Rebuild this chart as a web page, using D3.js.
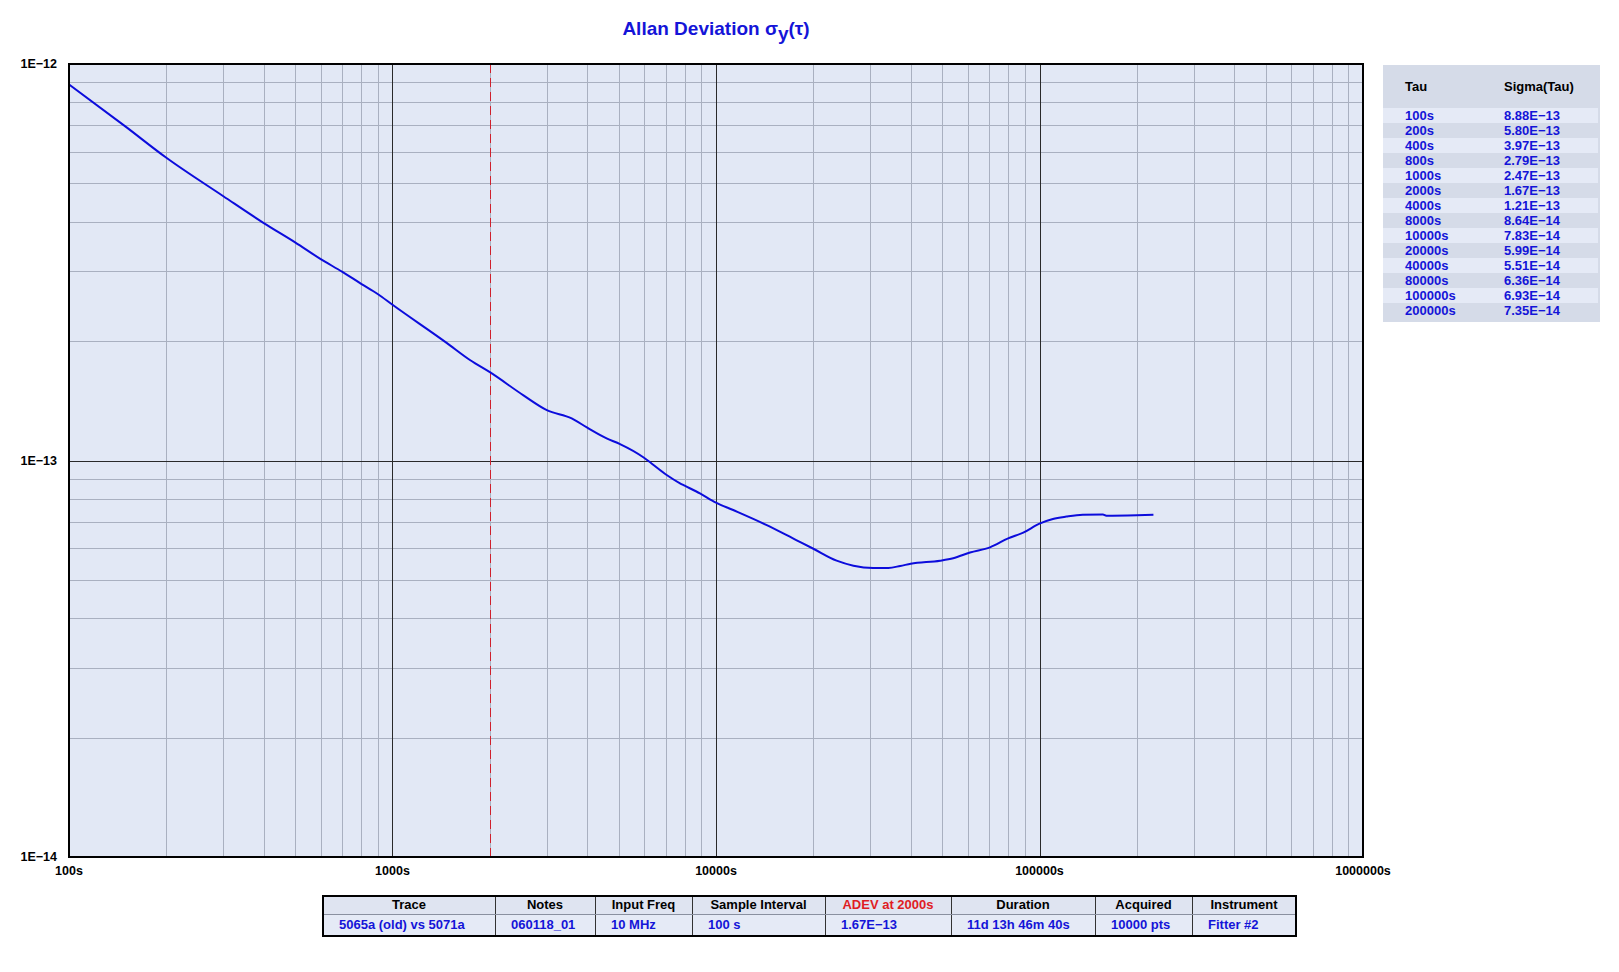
<!DOCTYPE html>
<html>
<head>
<meta charset="utf-8">
<script src="https://cdn.jsdelivr.net/npm/d3@7"></script>
<style>
  body { margin: 0; background: #fff; }
  text { font-family: "Liberation Sans", Arial, sans-serif; font-weight: bold; }
</style>
</head>
<body>
<script>
// curve (tau in s, sigma)
var tau = [100, 150, 200, 300, 400, 500, 600, 700, 800, 900, 1000, 1470, 1740, 2000, 2540, 3000, 3580, 4000, 4590, 5050,
           5960, 6320, 7040, 7740, 8000, 8920, 10000, 11300, 14300, 17700, 20000, 23600, 26600, 30600, 34100, 37100,
           40000, 49300, 54100, 61000, 70300, 80000, 89100, 100000, 110000, 121000, 136000, 157000, 161000, 200000, 225000];
var sigma = [8.88e-13, 6.94e-13, 5.80e-13, 4.64e-13, 3.97e-13, 3.55e-13, 3.22e-13, 2.99e-13, 2.79e-13, 2.63e-13, 2.47e-13,
             1.98e-13, 1.79e-13, 1.67e-13, 1.46e-13, 1.34e-13, 1.277e-13, 1.21e-13, 1.137e-13, 1.10e-13,
             1.019e-13, 9.83e-14, 9.19e-14, 8.76e-14, 8.64e-14, 8.26e-14, 7.83e-14, 7.50e-14, 6.88e-14, 6.30e-14,
             5.99e-14, 5.59e-14, 5.43e-14, 5.36e-14, 5.36e-14, 5.42e-14, 5.49e-14, 5.59e-14, 5.67e-14, 5.86e-14,
             6.04e-14, 6.36e-14, 6.58e-14, 6.93e-14, 7.12e-14, 7.22e-14, 7.30e-14, 7.31e-14, 7.26e-14, 7.28e-14, 7.30e-14];

// side table
var tableTau = ["100s", "200s", "400s", "800s", "1000s", "2000s", "4000s", "8000s", "10000s", "20000s", "40000s", "80000s", "100000s", "200000s"];
var tableSigma = ["8.88E−13", "5.80E−13", "3.97E−13", "2.79E−13", "2.47E−13", "1.67E−13", "1.21E−13", "8.64E−14", "7.83E−14", "5.99E−14", "5.51E−14", "6.36E−14", "6.93E−14", "7.35E−14"];

// bottom info table
var infoHeaders = ["Trace", "Notes", "Input Freq", "Sample Interval", "ADEV at 2000s", "Duration", "Acquired", "Instrument"];
var infoValues = ["5065a (old) vs 5071a", "060118_01", "10 MHz", "100 s", "1.67E−13", "11d 13h 46m 40s", "10000 pts", "Fitter #2"];

var markerTau = 2000;

var width = 1619, height = 972;
// note: "top" is taken by window.top, so use plot* names
var plotL = 69, plotR = 1363, plotT = 64, plotB = 857;
var blue = "#1414d8";

var svg = d3.select("body").append("svg")
    .attr("width", width)
    .attr("height", height);

var x = d3.scaleLog().domain([100, 1e6]).range([plotL, plotR]);
var y = d3.scaleLog().domain([1e-14, 1e-12]).range([plotB, plotT]);

// plot background
svg.append("rect")
    .attr("x", plotL).attr("y", plotT)
    .attr("width", plotR - plotL).attr("height", plotB - plotT)
    .attr("fill", "#e2e8f5");

function isDecade(v) {
    var l = Math.log10(v);
    return Math.abs(l - Math.round(l)) < 1e-9;
}

// grid lines
var xt = x.ticks(), yt = y.ticks();
svg.append("g").selectAll("line")
    .data(xt.filter(function(d) { return !isDecade(d); }))
    .enter().append("line")
    .attr("x1", function(d) { return Math.round(x(d)) + 0.5; })
    .attr("x2", function(d) { return Math.round(x(d)) + 0.5; })
    .attr("y1", plotT).attr("y2", plotB)
    .attr("stroke", "#a9b0c0");
svg.append("g").selectAll("line")
    .data(yt.filter(function(d) { return !isDecade(d); }))
    .enter().append("line")
    .attr("y1", function(d) { return Math.round(y(d)) + 0.5; })
    .attr("y2", function(d) { return Math.round(y(d)) + 0.5; })
    .attr("x1", plotL).attr("x2", plotR)
    .attr("stroke", "#a9b0c0");
svg.append("g").selectAll("line")
    .data(xt.filter(isDecade))
    .enter().append("line")
    .attr("x1", function(d) { return Math.round(x(d)) + 0.5; })
    .attr("x2", function(d) { return Math.round(x(d)) + 0.5; })
    .attr("y1", plotT).attr("y2", plotB)
    .attr("stroke", "#2a2a2a");
svg.append("g").selectAll("line")
    .data(yt.filter(isDecade))
    .enter().append("line")
    .attr("y1", function(d) { return Math.round(y(d)) + 0.5; })
    .attr("y2", function(d) { return Math.round(y(d)) + 0.5; })
    .attr("x1", plotL).attr("x2", plotR)
    .attr("stroke", "#2a2a2a");

// red marker at 2000s
svg.append("line")
    .attr("x1", Math.round(x(markerTau)) + 0.5).attr("x2", Math.round(x(markerTau)) + 0.5)
    .attr("y1", plotT).attr("y2", plotB)
    .attr("stroke", "#d0202c")
    .attr("stroke-dasharray", "9,5");

// the curve
var line = d3.line()
    .x(function(d, i) { return x(tau[i]); })
    .y(function(d) { return y(d); })
    .curve(d3.curveMonotoneX);
svg.append("path")
    .datum(sigma)
    .attr("d", line)
    .attr("fill", "none")
    .attr("stroke", "#0c0cdc")
    .attr("stroke-width", 2);

// frame
svg.append("rect")
    .attr("x", plotL).attr("y", plotT)
    .attr("width", plotR - plotL).attr("height", plotB - plotT)
    .attr("fill", "none")
    .attr("stroke", "#000")
    .attr("stroke-width", 2);

// axis labels
svg.append("g").selectAll("text")
    .data(xt.filter(isDecade))
    .enter().append("text")
    .attr("x", function(d) { return x(d); })
    .attr("y", plotB + 18)
    .attr("text-anchor", "middle")
    .style("font-size", "12.5px")
    .text(function(d) { return d + "s"; });
svg.append("g").selectAll("text")
    .data(yt.filter(isDecade))
    .enter().append("text")
    .attr("x", plotL - 12)
    .attr("y", function(d) { return y(d); })
    .attr("dy", "0.35em")
    .attr("text-anchor", "end")
    .style("font-size", "12.5px")
    .text(function(d) { return "1E−" + Math.round(-Math.log10(d)); });

// title
var title = svg.append("text")
    .attr("x", (plotL + plotR) / 2)
    .attr("y", 35)
    .attr("text-anchor", "middle")
    .attr("fill", blue)
    .style("font-size", "19px");
title.append("tspan").text("Allan Deviation σ");
title.append("tspan").attr("dy", 5).text("y");
title.append("tspan").attr("dy", -5).text("(τ)");

// right-hand table
var tx = 1383, ty = 65, tw = 217, rowH = 15, firstRow = 108;
svg.append("rect")
    .attr("x", tx).attr("y", ty)
    .attr("width", tw).attr("height", firstRow - ty + rowH * tableTau.length + 4)
    .attr("fill", "#d5dbe8");
svg.append("g").selectAll("rect")
    .data(tableTau)
    .enter().append("rect")
    .attr("x", tx).attr("y", function(d, i) { return firstRow + i * rowH; })
    .attr("width", tw - 2).attr("height", rowH)
    .attr("fill", function(d, i) { return i % 2 === 0 ? "#e5eaf6" : "#d5dbe8"; });
svg.append("text").attr("x", 1405).attr("y", 86).attr("dy", "0.35em")
    .style("font-size", "13px").text("Tau");
svg.append("text").attr("x", 1504).attr("y", 86).attr("dy", "0.35em")
    .style("font-size", "13px").text("Sigma(Tau)");
svg.append("g").selectAll("text")
    .data(tableTau)
    .enter().append("text")
    .attr("x", 1405).attr("y", function(d, i) { return firstRow + i * rowH + rowH / 2; })
    .attr("dy", "0.35em").attr("fill", blue)
    .style("font-size", "13px")
    .text(function(d) { return d; });
svg.append("g").selectAll("text")
    .data(tableSigma)
    .enter().append("text")
    .attr("x", 1504).attr("y", function(d, i) { return firstRow + i * rowH + rowH / 2; })
    .attr("dy", "0.35em").attr("fill", blue)
    .style("font-size", "13px")
    .text(function(d) { return d; });

// bottom info table
var colX = [323, 495, 595, 692, 825, 951, 1095, 1192, 1296];
var by0 = 896, by1 = 914, by2 = 936;
svg.append("rect").attr("x", colX[0]).attr("y", by0)
    .attr("width", colX[8] - colX[0]).attr("height", by1 - by0).attr("fill", "#dfe4f1");
svg.append("rect").attr("x", colX[0]).attr("y", by1)
    .attr("width", colX[8] - colX[0]).attr("height", by2 - by1).attr("fill", "#e5eaf6");
svg.append("g").selectAll("line")
    .data(colX.slice(1, 8))
    .enter().append("line")
    .attr("x1", function(d) { return d + 0.5; }).attr("x2", function(d) { return d + 0.5; })
    .attr("y1", by0).attr("y2", by2)
    .attr("stroke", "#333");
svg.append("line").attr("x1", colX[0]).attr("x2", colX[8])
    .attr("y1", by1 + 0.5).attr("y2", by1 + 0.5).attr("stroke", "#8a90a0");
svg.append("rect").attr("x", colX[0]).attr("y", by0)
    .attr("width", colX[8] - colX[0]).attr("height", by2 - by0)
    .attr("fill", "none").attr("stroke", "#000").attr("stroke-width", 2);
svg.append("g").selectAll("text")
    .data(infoHeaders)
    .enter().append("text")
    .attr("x", function(d, i) { return (colX[i] + colX[i + 1]) / 2; })
    .attr("y", (by0 + by1) / 2 - 0.5).attr("dy", "0.35em")
    .attr("text-anchor", "middle")
    .attr("fill", function(d, i) { return i === 4 ? "#e01c24" : "#000"; })
    .style("font-size", "13px")
    .text(function(d) { return d; });
svg.append("g").selectAll("text")
    .data(infoValues)
    .enter().append("text")
    .attr("x", function(d, i) { return colX[i] + 16; })
    .attr("y", (by1 + by2) / 2 - 0.5).attr("dy", "0.35em")
    .attr("fill", blue)
    .style("font-size", "13px")
    .text(function(d) { return d; });
</script>
</body>
</html>
